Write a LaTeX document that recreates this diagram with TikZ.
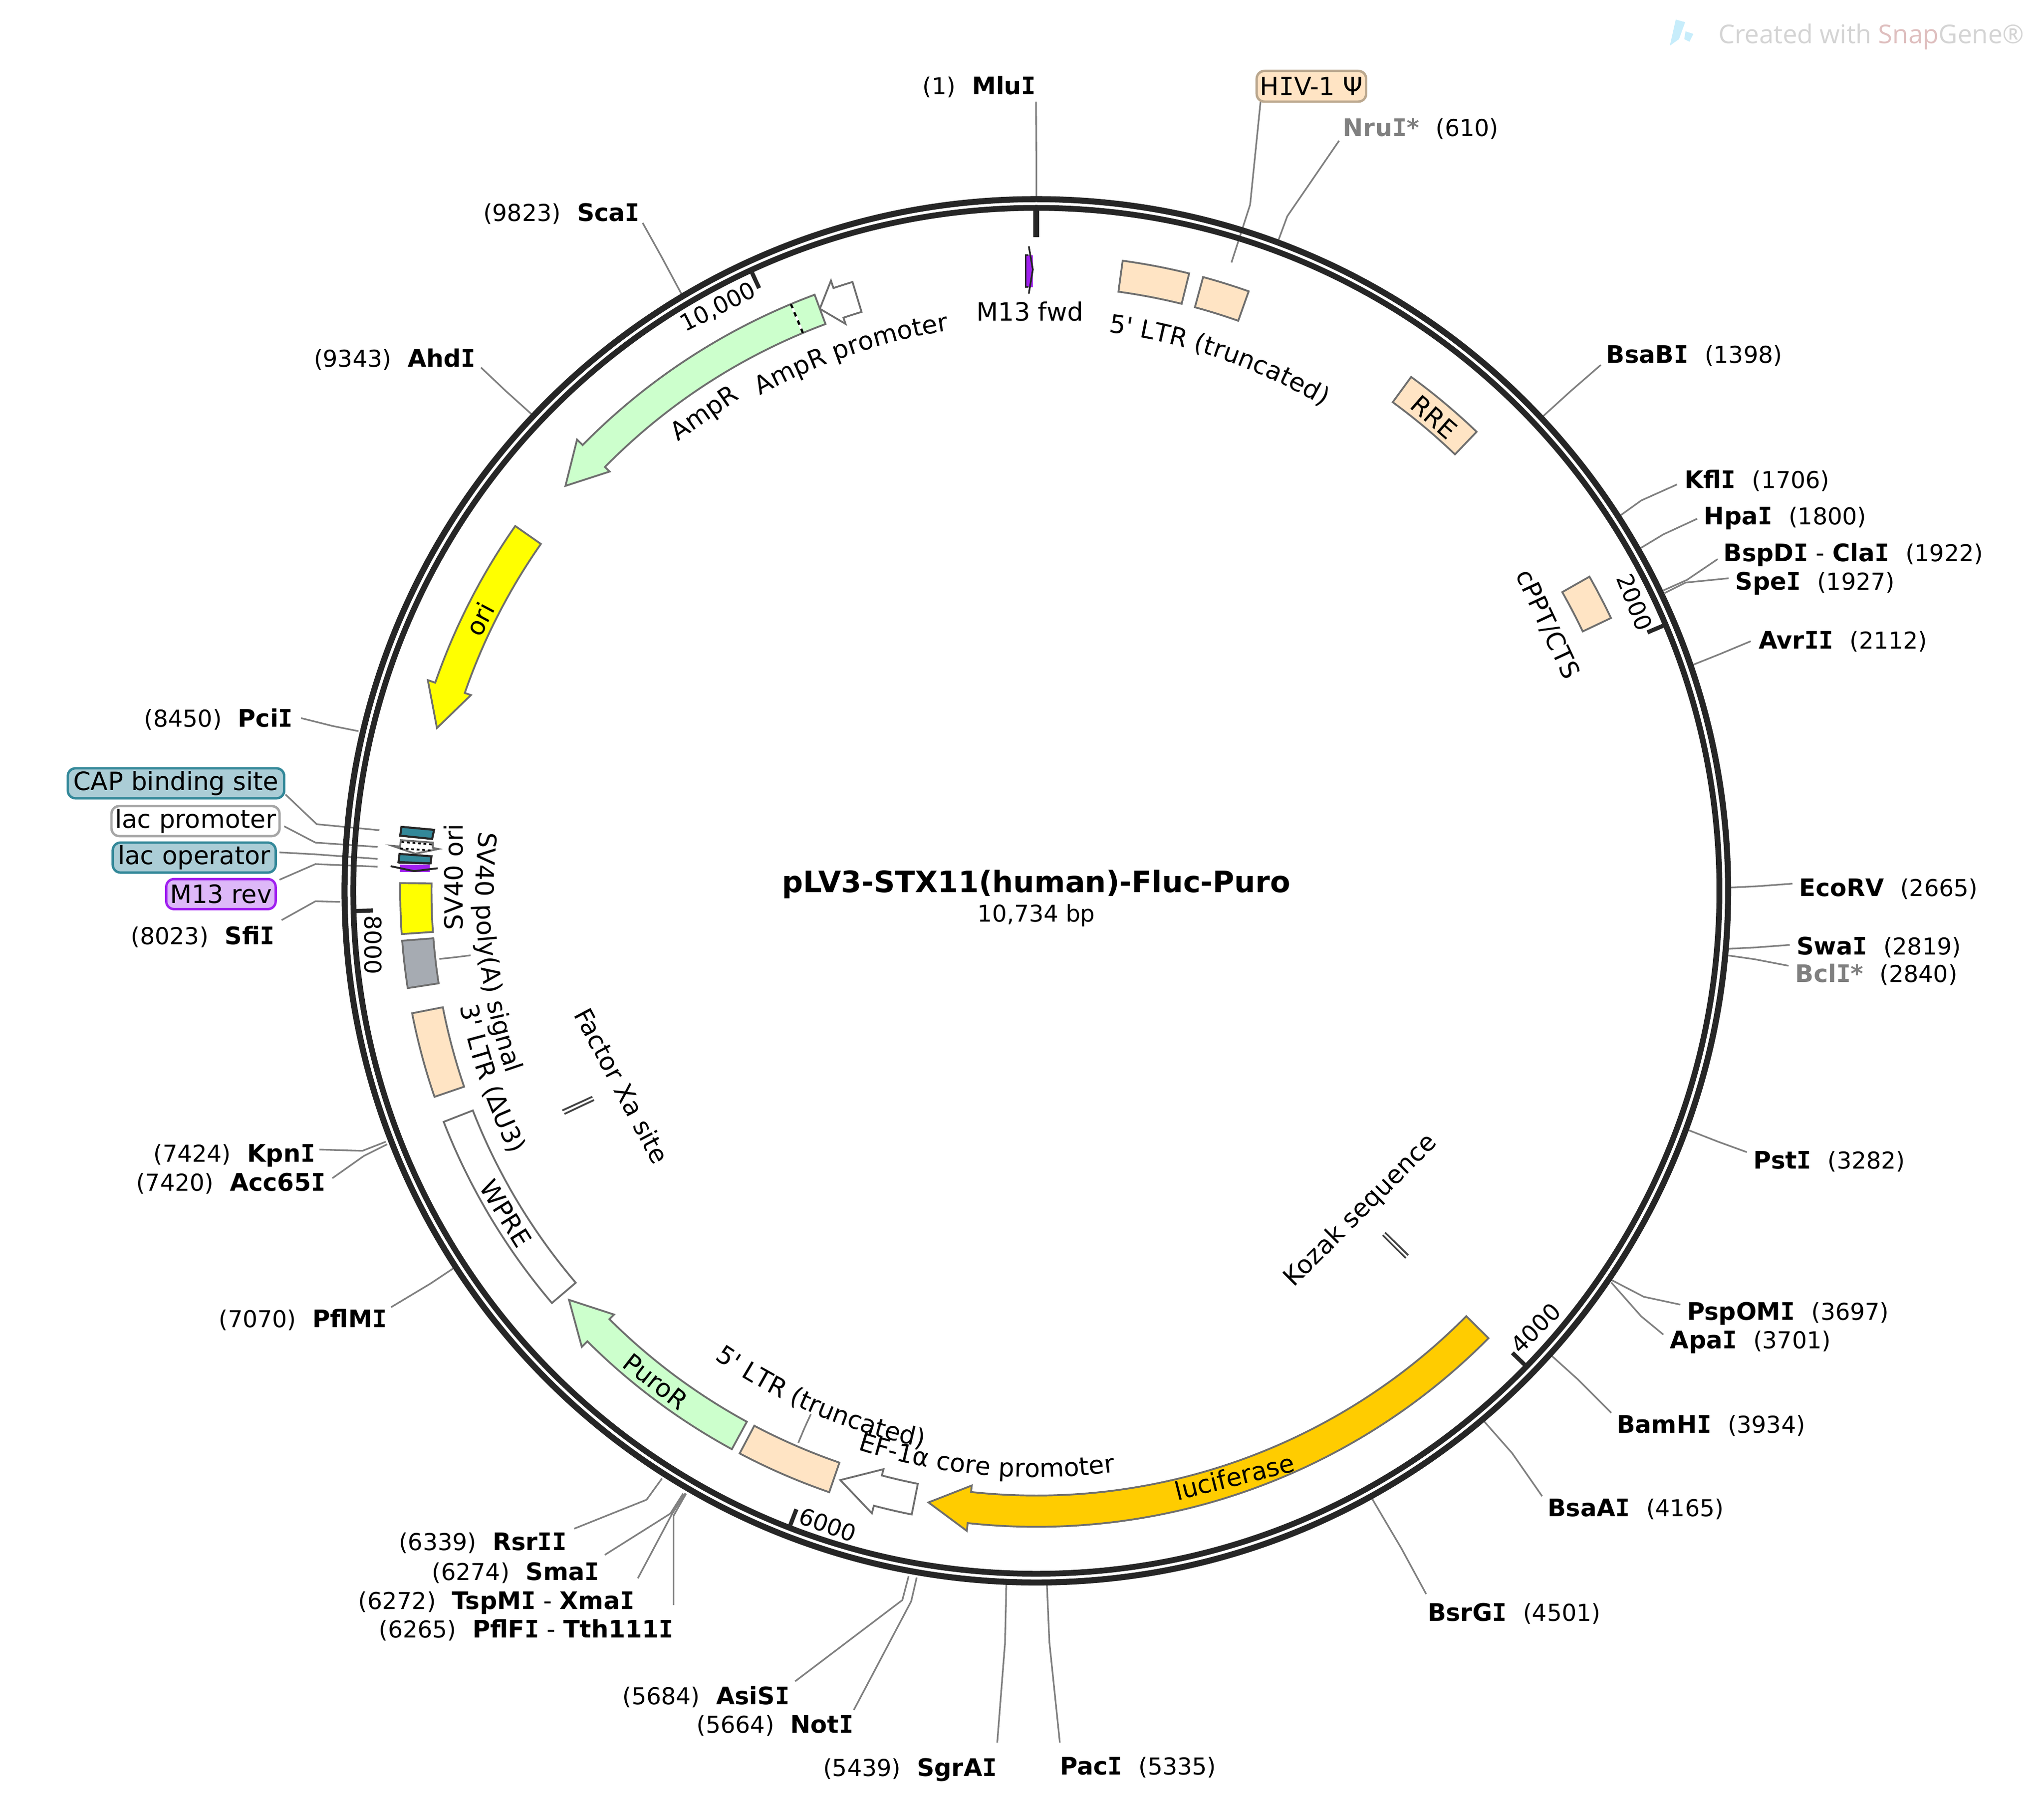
\documentclass[tikz,border=0pt]{standalone}
\usepackage{fontspec}
\setmainfont{DejaVu Sans}[Ligatures=TeXOff]
\newfontfamily\wmfont{Open Sans}
\newfontfamily\monof{DejaVu Sans Mono}
\usetikzlibrary{decorations.text}
\definecolor{ringc}{HTML}{262626}
\definecolor{edgec}{HTML}{6E6E6E}
\definecolor{leadc}{HTML}{808080}
\definecolor{markc}{HTML}{444444}
\definecolor{ltrc}{HTML}{FFE4C4}
\definecolor{ltre}{HTML}{BBA88F}
\definecolor{grnc}{HTML}{CCFFCC}
\definecolor{luc}{HTML}{FFCC00}
\definecolor{ylw}{HTML}{FFFF00}
\definecolor{gryc}{HTML}{A6ABB2}
\definecolor{teal}{HTML}{338899}
\definecolor{tealf}{HTML}{ABCDD6}
\definecolor{prp}{HTML}{A020F0}
\definecolor{prpf}{HTML}{DDB8F8}
\newcommand{\lblf}{\fontsize{14.6pt}{16pt}\selectfont}
\newcommand{\numf}{\fontsize{13.5pt}{15pt}\selectfont}
\newcommand{\rulf}{\fontsize{13.4pt}{15pt}\selectfont}
\newcommand{\namef}{\fontsize{14pt}{15pt}\selectfont\bfseries}
\newcommand{\bI}{{\monof\bfseries I}}
\tikzset{
 x=0.026543cm,y=0.026543cm,
 leadline/.style={draw=leadc,line width=0.95pt},
 seg/.style={draw=edgec,line width=1.05pt,line join=miter},
 rlab/.style={anchor=west,inner sep=0pt,yshift=-1.3pt,font=\numf,text height=1em,text depth=0.25em},
 llab/.style={anchor=east,inner sep=0pt,yshift=-1.3pt,font=\numf,text height=1em,text depth=0.25em},
 flab/.style={inner sep=0pt,font=\lblf},
 rlbl/.style={inner sep=0pt,font=\rulf},
 tick/.style={draw=ringc,line width=2.4pt},
 xmark/.style={draw=markc,line width=1.05pt},
 fbox/.style={rounded corners=4.5pt,line width=1.4pt,inner sep=0pt,font=\lblf,anchor=center},
}
\newcommand{\feat}[5]{\draw[#1] (#2:#4) arc[start angle=#2,end angle=#3,radius=#4] -- (#3:#5) arc[start angle=#3,end angle=#2,radius=#5] -- cycle;}
\newcommand{\arrowfeat}[4]{\draw[#1] (#2:464) arc[start angle=#2,end angle=#4,radius=464] -- (#4:459) -- (#3:476.5) -- (#4:494) -- (#4:488) arc[start angle=#4,end angle=#2,radius=488] -- cycle;}
\newcommand{\arctext}[4]{\path[decorate,decoration={text along path,text align=center,text={|\lblf|#1}}] (#2:#4) arc[start angle=#2,end angle=#3,radius=#4];}
\newcommand{\siteR}[5][black]{\node[rlab] (#2) at (#3) {\textcolor{#1}{\namef #4}\hspace{0.7em}(#5)};}
\newcommand{\siteL}[4]{\node[llab] (#1) at (#2) {(#4)\hspace{0.7em}{\namef #3}};}
\newcommand{\leadthree}[4]{\coordinate (#1a) at (#2);\coordinate (#1b) at (#3);\coordinate (#1c) at (#4);\draw[leadline] (#1a) -- (#1b) -- (#1c);}
\begin{document}
\begin{tikzpicture}
\useasboundingbox (0,0) rectangle (1568,-1382.6);
\fill[white] (0,0) rectangle (1568,-1382.6);
% watermark
\fill[color=cyan!22] (1285.5,-15) -- (1292.7,-17) -- (1288,-30) -- (1281,-35) -- cycle;
\fill[color=cyan!22] (1293,-24) -- (1299,-26) -- (1296,-32) -- (1292,-30) -- cycle;
\node[inner sep=0pt,anchor=west,font=\wmfont\fontsize{15pt}{17pt}\selectfont,text=black!17] (wm) at (1318,-28) {Created with \textcolor{red!50!black!25}{Snap}Gene®};
% leader lines
\leadthree{mlu}{794.8,-78}{795,-120}{795,-151}
\leadthree{hiv}{967,-78}{959,-157}{944.7,-201.4}
\leadthree{nru}{1027.2,-108}{987.5,-165.9}{980.8,-184}
\leadthree{bsab}{1228,-280}{1205,-300}{1183,-320}
\leadthree{kfl}{1286.5,-371.7}{1259,-384}{1243,-395.5}
\leadthree{hpa}{1302,-398}{1276,-410}{1258.6,-420.5}
\leadthree{bsp}{1317.6,-429}{1294,-445}{1276,-453}
\leadthree{spe}{1326,-443.7}{1293,-447}{1277,-455}
\leadthree{avr}{1343,-492}{1319,-502}{1299,-510}
\leadthree{eco}{1375,-678}{1348,-680}{1327,-681}
\leadthree{swa}{1373,-725}{1346,-727}{1325,-728}
\leadthree{bcl}{1372,-741}{1346,-736}{1325,-733}
\leadthree{pst}{1340,-884}{1318,-876}{1295,-867}
\leadthree{psp}{1289,-1001}{1261,-995}{1236,-982}
\leadthree{apa}{1276,-1024}{1259,-1010}{1236,-984}
\leadthree{bam}{1236,-1084}{1210,-1058}{1190,-1040}
\leadthree{bsaa}{1183,-1148}{1160,-1115}{1138,-1090}
\leadthree{bsr}{1094,-1223}{1075,-1188}{1052,-1149}
\leadthree{pac}{813,-1337}{805,-1260}{803,-1213}
\leadthree{sgr}{765,-1337}{771,-1260}{772,-1214}
\leadthree{not}{655,-1312}{699,-1228.6}{703.2,-1210.4}
\leadthree{asi}{610,-1290}{692.2,-1227.7}{697,-1209.4}
\leadthree{tth}{516.7,-1231.5}{516.7,-1163}{526.3,-1146}
\leadthree{xma}{489.3,-1211}{515.7,-1161.3}{525.4,-1146}
\leadthree{sma}{464,-1193}{514.3,-1161.3}{524,-1146}
\leadthree{rsr}{440.5,-1172.9}{496,-1150.7}{507.8,-1134.4}
\leadthree{pfm}{300,-1003}{330,-985}{348,-973}
\leadthree{acc}{255,-904}{279,-887}{297,-878}
\leadthree{kpn}{245,-882}{278,-883}{296,-876}
\leadthree{sfi}{216,-706}{242,-691.5}{261,-692}
\leadthree{m13r}{214.4,-675}{242,-663}{289.6,-665}
\leadthree{lacop}{214.4,-654}{242,-655.5}{289.6,-659}
\leadthree{lacpr}{218,-634}{242,-646.5}{289.6,-649.8}
\leadthree{capl}{219,-609.6}{243,-632.4}{291,-637}
\leadthree{pci}{231,-551}{255,-557}{275,-561}
\leadthree{ahd}{369,-282}{388,-300}{408,-318}
\leadthree{sca}{493,-171}{508,-198}{523,-226}
\leadthree{ltrl}{622,-1085}{617,-1096}{612.4,-1107}
\leadthree{pola}{337,-735.8}{349,-734.5}{361,-733}
% map
\begin{scope}[shift={(795,-683.5)}]
\draw[ringc,line width=3.5pt] (0,0) circle[radius=530.7];
\draw[ringc,line width=3.35pt] (0,0) circle[radius=524];
\draw[ringc,line width=3.5pt] (90:522) -- (90:501.5);
\foreach \a in {22.93,-44.15,-111.2,-178.3,-245.3} \draw[tick] (\a:522) -- (\a:509);
% features
\feat{seg,fill=ltrc}{82.2}{76.1}{464}{488}
\feat{seg,fill=ltrc}{74.8}{70.5}{464}{488}
\feat{seg,fill=ltrc}{53.9}{46.2}{464}{488}
\feat{seg,fill=ltrc}{29.6}{25.4}{464}{488}
\feat{seg,fill=ltrc}{191.1}{198.9}{464}{488}
\feat{seg,fill=ltrc}{242.2}{251}{464}{488}
\feat{seg,fill=white}{201.3}{220.4}{464}{488}
\feat{seg,fill=gryc}{184.5}{188.8}{464}{488}
\feat{seg,fill=ylw}{179.3}{183.9}{464}{488}
\arrowfeat{seg,fill=grnc}{110.4}{139.3}{135.5}
\arrowfeat{seg,fill=white}{106.8}{110.4}{108.6}
\arrowfeat{seg,fill=ylw}{145}{164.8}{160.9}
\arrowfeat{seg,fill=grnc}{241.4}{221.2}{225.1}
\arrowfeat{seg,fill=white}{258.7}{251.6}{255.2}
\arrowfeat{seg,fill=luc}{315.3}{260}{263.8}
\draw[white,line width=1.3pt] (112.7:464) -- (112.7:488);
\draw[black,line width=1.3pt,dash pattern=on 2.6pt off 2.6pt] (112.7:464) -- (112.7:488);
% curved labels
\arctext{5' LTR (truncated)}{91}{51}{432}
\arctext{AmpR promoter}{130}{88}{435}
\arctext{SV40 poly(A) signal}{169}{204}{430}
\arctext{3' LTR (ΔU3)}{185}{213}{451}
\arctext{5' LTR (truncated)}{225}{269}{436}
\arctext{EF-1α core promoter}{240}{290}{450}
\end{scope}
% left small features
\draw[draw=ringc,line width=1.2pt,fill=teal] (308,-634.4) -- (333,-636.7) -- (331.5,-643.7) -- (307,-641.2) -- cycle;
\draw[seg,fill=white] (307.4,-644.6) -- (332.2,-646.5) -- (332,-650.5) -- (336.3,-651.4) -- (318.5,-655) -- (301,-649) -- (307,-649.5) -- cycle;
\draw[black,line width=1pt,dash pattern=on 1.6pt off 1.6pt] (308,-646) -- (332,-648);
\draw[black,line width=1pt,dash pattern=on 1.6pt off 1.6pt] (307,-651) -- (331,-652.5);
\draw[draw=ringc,line width=1.2pt,fill=teal] (306.5,-655.2) -- (331,-657) -- (330.3,-662.4) -- (305.7,-661.5) -- cycle;
\fill[prp] (306.5,-663.4) rectangle (329.8,-669);
\draw[ringc,line width=0.9pt] (305.7,-662) -- (329.8,-662.7);
\draw[ringc,line width=1.1pt] (299.7,-664.6) -- (317.7,-668.4) -- (335.8,-666.2);
% M13 fwd primer
\fill[prp] (787.5,-195.8) rectangle (792.3,-220.2);
\draw[ringc,line width=1pt] (789.2,-189) -- (792.3,-206.8) -- (789.2,-225.3);
\draw[ringc,line width=1pt] (789,-195.8) -- (786.8,-195.8) -- (786.8,-220.2) -- (789,-220.2);
% xa and kozak marks
\draw[xmark] (431.4,-852) -- (454.4,-841.5);
\draw[xmark] (433,-854.7) -- (455.7,-844);
\draw[xmark] (1062.5,-945.7) -- (1080.3,-963.1);
\draw[xmark] (1060.7,-947.7) -- (1078.4,-965.3);
% labels in boxes
\node[fbox,draw=ltre,fill=ltrc,minimum width=63.4pt,minimum height=17.8pt] (hivbox) at (1006,-66.2) {H{\monof I}V-1 Ψ};
\node[fbox,draw=teal,fill=tealf,minimum width=125.4pt,minimum height=17.4pt] (capbox) at (135,-601) {CAP binding site};
\node[fbox,draw=black!35,fill=white,minimum width=97.4pt,minimum height=17.4pt] (lacprbox) at (150,-630) {lac promoter};
\node[fbox,draw=teal,fill=tealf,minimum width=94.4pt,minimum height=17.4pt] (lacopbox) at (149,-658) {lac operator};
\node[fbox,draw=prp,fill=prpf,minimum width=63.4pt,minimum height=17.4pt] (m13box) at (169.5,-686) {M13 rev};
% site labels
\siteL{mlui}{795,-66}{Mlu\bI}{1}
\siteL{scai}{491,-163}{Sca\bI}{9823}
\siteL{ahdi}{365,-275}{Ahd\bI}{9343}
\siteL{pcii}{225,-551}{Pci\bI}{8450}
\siteL{sfii}{211,-718}{Sfi\bI}{8023}
\siteL{kpni}{242,-885}{Kpn\bI}{7424}
\siteL{acci}{250,-907}{Acc65\bI}{7420}
\siteL{pfmi}{297,-1012}{PflM\bI}{7070}
\siteL{rsri}{435,-1183}{Rsr\bI\bI}{6339}
\siteL{smai}{460,-1206}{Sma\bI}{6274}
\siteL{xmai}{487,-1228}{TspM\bI\textmd{ - }Xma\bI}{6272}
\siteL{tthi}{517,-1250}{PflF\bI\textmd{ - }Tth111\bI}{6265}
\siteL{asii}{606,-1301}{AsiS\bI}{5684}
\siteL{noti}{655,-1323}{Not\bI}{5664}
\siteL{sgri}{765,-1356}{SgrA\bI}{5439}
\siteR[black!50]{nrui}{1030,-98}{Nru\bI*}{610}
\siteR{bsabi}{1232,-272}{BsaB\bI}{1398}
\siteR{kfli}{1292,-368}{Kfl\bI}{1706}
\siteR{hpai}{1307,-396}{Hpa\bI}{1800}
\siteR{clai}{1322,-424}{BspD\bI\textmd{ - }Cla\bI}{1922}
\siteR{spei}{1331,-446}{Spe\bI}{1927}
\siteR{avri}{1349,-491}{Avr\bI\bI}{2112}
\siteR{ecov}{1380,-681}{EcoRV}{2665}
\siteR{swai}{1378,-726}{Swa\bI}{2819}
\siteR[black!50]{bcli}{1377,-747}{Bcl\bI*}{2840}
\siteR{psti}{1345,-890}{Pst\bI}{3282}
\siteR{pspo}{1294,-1006}{PspOM\bI}{3697}
\siteR{apai}{1281,-1028}{Apa\bI}{3701}
\siteR{bami}{1240,-1093}{BamH\bI}{3934}
\siteR{bsaai}{1187,-1157}{BsaA\bI}{4165}
\siteR{bsrg}{1095,-1237}{BsrG\bI}{4501}
\siteR{paci}{813,-1355}{Pac\bI}{5335}
% straight feature labels
\node[flab] (m13f) at (790,-239) {M13 fwd};
\node[flab,rotate=-41] (rre) at (1100,-320) {RRE};
\node[flab,rotate=-65] (cppt) at (1187,-479) {cPPT/CTS};
\node[flab,rotate=35] (ampr) at (541,-318) {AmpR};
\node[flab,rotate=62] (orilab) at (368,-475) {ori};
\node[flab,rotate=90] (svori) at (348,-673) {SV40 ori};
\node[flab,rotate=-62] (xalab) at (477,-833) {Factor Xa site};
\node[flab,rotate=45] (kozak) at (1044,-929) {Kozak sequence};
\node[flab,rotate=-58] (wpre) at (388,-931) {WPRE};
\node[flab,rotate=-38] (puro) at (503,-1060) {PuroR};
\node[flab,rotate=14] (lucl) at (947,-1133) {luciferase};
% ruler labels
\node[rlbl,rotate=-68] (r2k) at (1254,-462) {2000};
\node[rlbl,rotate=45] (r4k) at (1178,-1019) {4000};
\node[rlbl,rotate=-20] (r6k) at (635,-1170) {6000};
\node[rlbl,rotate=-90] (r8k) at (286,-725) {8000};
\node[rlbl,rotate=27] (r10k) at (551,-236) {10,000};
% title
\node[inner sep=0pt,font=\bfseries\fontsize{17.1pt}{19pt}\selectfont] (title) at (795,-678.5) {pLV3-STX11(human)-Fluc-Puro};
\node[inner sep=0pt,font=\fontsize{13.4pt}{15pt}\selectfont] (bp) at (795,-702.5) {10,734 bp};
\end{tikzpicture}
\end{document}
